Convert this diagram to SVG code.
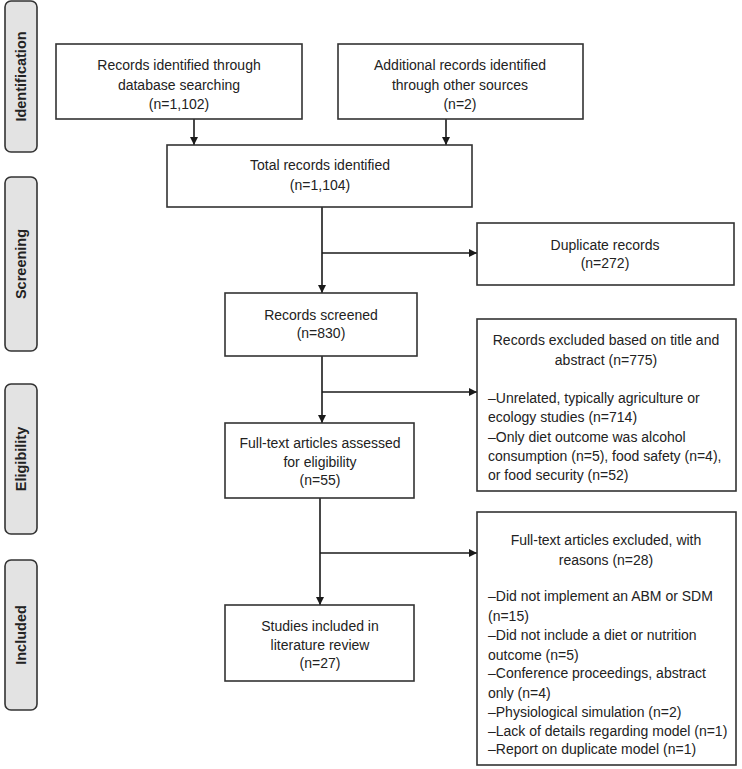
<svg xmlns="http://www.w3.org/2000/svg" width="742" height="769" viewBox="0 0 742 769">
<defs>
<marker id="ah" viewBox="0 0 10 10" refX="10" refY="5" markerWidth="8" markerHeight="8" markerUnits="userSpaceOnUse" orient="auto">
<path d="M0,0 L10,5 L0,10 z" fill="#1a1a1a"/>
</marker>
<style>
.box{fill:#fff;stroke:#333;stroke-width:1.6}
.side{fill:#e3e3e3;stroke:#333;stroke-width:1.6}
.t{font-family:"Liberation Sans",Arial,sans-serif;font-size:14px;fill:#222}
.c{text-anchor:middle}
.s{font-family:"Liberation Sans",Arial,sans-serif;font-size:14.5px;font-weight:bold;fill:#222;text-anchor:middle}
.ln{stroke:#1a1a1a;stroke-width:1.6;fill:none}
</style>
</defs>
<rect width="742" height="769" fill="#fff"/>

<g id="phase-identification"><rect class="side" x="5" y="1" width="32" height="151" rx="6"/><text class="s" transform="translate(26,76.5) rotate(-90)">Identification</text></g>
<g id="phase-screening"><rect class="side" x="5" y="177" width="32" height="174" rx="6"/><text class="s" transform="translate(26,264) rotate(-90)">Screening</text></g>
<g id="phase-eligibility"><rect class="side" x="5" y="384" width="32" height="150" rx="6"/><text class="s" transform="translate(26,459) rotate(-90)">Eligibility</text></g>
<g id="phase-included"><rect class="side" x="5" y="560" width="32" height="150" rx="6"/><text class="s" transform="translate(26,635) rotate(-90)">Included</text></g>

<g id="connectors">
<line class="ln" x1="194" y1="119" x2="194" y2="145" marker-end="url(#ah)"/>
<line class="ln" x1="446" y1="119" x2="446" y2="145" marker-end="url(#ah)"/>
<line class="ln" x1="322" y1="207" x2="322" y2="293" marker-end="url(#ah)"/>
<line class="ln" x1="322" y1="253" x2="477" y2="253" marker-end="url(#ah)"/>
<line class="ln" x1="322" y1="356" x2="322" y2="423" marker-end="url(#ah)"/>
<line class="ln" x1="322" y1="392" x2="477" y2="392" marker-end="url(#ah)"/>
<line class="ln" x1="320" y1="498" x2="320" y2="605" marker-end="url(#ah)"/>
<line class="ln" x1="320" y1="553" x2="477" y2="553" marker-end="url(#ah)"/>
</g>

<g id="db-records"><rect class="box" x="56" y="44" width="246" height="75"/>
<text class="t c" x="179" y="70">Records identified through</text>
<text class="t c" x="179" y="90">database searching</text>
<text class="t c" x="179" y="109">(n=1,102)</text></g>

<g id="other-records"><rect class="box" x="338" y="44" width="245" height="75"/>
<text class="t c" x="460" y="70">Additional records identified</text>
<text class="t c" x="460" y="90">through other sources</text>
<text class="t c" x="460" y="109">(n=2)</text></g>

<g id="total-records"><rect class="box" x="167" y="145" width="305" height="62"/>
<text class="t c" x="320" y="170">Total records identified</text>
<text class="t c" x="320" y="190">(n=1,104)</text></g>

<g id="duplicates"><rect class="box" x="477" y="223" width="257" height="62"/>
<text class="t c" x="605" y="250">Duplicate records</text>
<text class="t c" x="605" y="268">(n=272)</text></g>

<g id="screened"><rect class="box" x="225" y="293" width="192" height="63"/>
<text class="t c" x="321" y="320">Records screened</text>
<text class="t c" x="321" y="338">(n=830)</text></g>

<g id="excluded-title"><rect class="box" x="477" y="319" width="259" height="172"/>
<text class="t c" x="606" y="345">Records excluded based on title and</text>
<text class="t c" x="606" y="365">abstract (n=775)</text>
<text class="t" x="488" y="403">–Unrelated, typically agriculture or</text>
<text class="t" x="488" y="422">ecology studies (n=714)</text>
<text class="t" x="488" y="442">–Only diet outcome was alcohol</text>
<text class="t" x="488" y="461">consumption (n=5), food safety (n=4),</text>
<text class="t" x="488" y="480">or food security (n=52)</text></g>

<g id="fulltext-assessed"><rect class="box" x="225" y="423" width="189" height="75"/>
<text class="t c" x="320" y="448">Full-text articles assessed</text>
<text class="t c" x="320" y="467">for eligibility</text>
<text class="t c" x="320" y="485">(n=55)</text></g>

<g id="fulltext-excluded"><rect class="box" x="477" y="512" width="259" height="253"/>
<text class="t c" x="606" y="545">Full-text articles excluded, with</text>
<text class="t c" x="606" y="565">reasons (n=28)</text>
<text class="t" x="488" y="601">–Did not implement an ABM or SDM</text>
<text class="t" x="488" y="621">(n=15)</text>
<text class="t" x="488" y="640">–Did not include a diet or nutrition</text>
<text class="t" x="488" y="660">outcome (n=5)</text>
<text class="t" x="488" y="678">–Conference proceedings, abstract</text>
<text class="t" x="488" y="698">only (n=4)</text>
<text class="t" x="488" y="717">–Physiological simulation (n=2)</text>
<text class="t" x="488" y="736">–Lack of details regarding model (n=1)</text>
<text class="t" x="488" y="754">–Report on duplicate model (n=1)</text></g>

<g id="included-studies"><rect class="box" x="225" y="605" width="189" height="76"/>
<text class="t c" x="320" y="631">Studies included in</text>
<text class="t c" x="320" y="650">literature review</text>
<text class="t c" x="320" y="668">(n=27)</text></g>
</svg>
